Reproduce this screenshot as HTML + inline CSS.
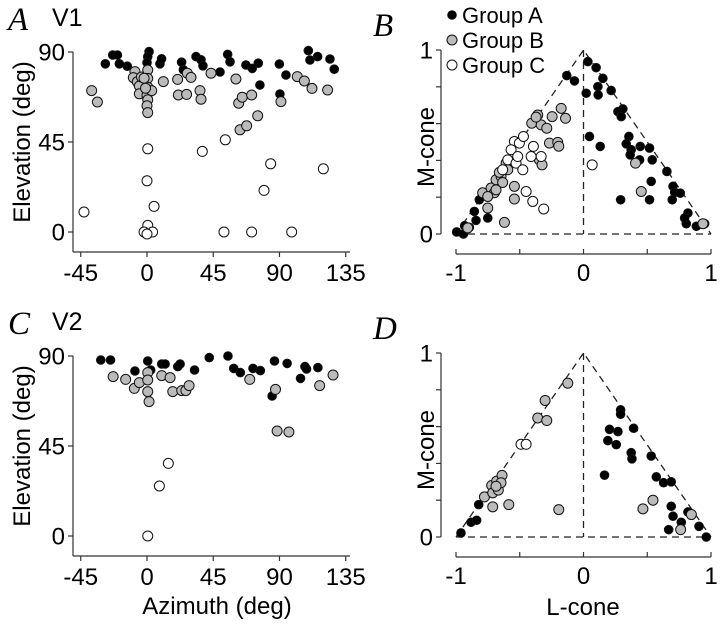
<!DOCTYPE html>
<html><head><meta charset="utf-8"><style>
html,body{margin:0;padding:0;background:#fff;}
svg{display:block;font-family:"Liberation Sans",sans-serif;}
</style></head><body>
<svg id="fig" width="720" height="625" viewBox="0 0 720 625"></svg>
<script>
// Panel A (V1) azimuth/elevation data
const aBlackAz=[-28.3,-23.3,-20.1,-18.8,-13.4,1.4,0.5,0,8.8,9.9,23.5,33.3,36.7,38.0,49.6,54.8,56.4,67.2,71.5,75.6,76.7,89.9,94.4,90.3,109.6,110.7,115.9,124.3,127.2,24.7];
const aBlackEl=[84.1,88.5,88.5,84.1,82.9,90.2,87.6,84.7,84.1,86.6,84.9,87.7,86.1,83.1,80.0,88.8,85.1,83.5,81.8,84.4,73.5,84.0,78.5,69.0,90.7,86.0,87.7,86.5,81.4,81.1];
const aGrayAz=[-37.6,-33.7,-8.2,-9.3,-6.6,-5.2,-3.8,-5.2,0.5,0.5,0.5,0,0.5,0,0.5,3.2,11.1,20.8,21.3,26.9,27.4,29.9,36.0,36.7,43.5,60.4,62.3,64.7,71.1,63.2,67.7,75.2,91.0,102.1,106.9,112.1,122.7,-2,-1];
const aGrayEl=[70.7,65.0,80.2,77.2,75.1,73.0,77.5,69.1,81.0,76.8,72.4,68.4,66.1,63.1,59.7,70.7,75.2,76.3,68.5,68.8,79.4,77.3,70.7,66.4,79.4,76.5,64.4,67.4,68.5,51.1,53.1,58.1,65.2,77.7,75.5,71.8,71.0,76.9,71.9];
const aOpenAz=[-42.8,0.5,0,4.8,0.5,-2,3.8,0,37.6,53.2,52.3,71.1,84.0,79.5,98.3,119.8];
const aOpenEl=[10.0,41.6,25.6,12.8,3.3,0,0,-1,40.3,46.1,0,0,34.1,20.8,0,31.6];
// Panel B (V1) cone weights
const bBlackL=[-0.995,-0.942,-0.932,-0.895,-0.856,-0.843,-0.817,-0.751,-0.131,-0.071,0.034,0.099,0.152,0.021,0.113,0.115,0.217,0.270,0.309,0.296,0.356,0.335,0.374,0.366,0.445,0.440,0.518,0.539,0.654,0.702,0.715,0.696,0.759,0.047,0.131,0.291,0.518,0.531,0.806,0.819,0.885,0.950,0.793];
const bBlackM=[0.011,0,0.045,0.036,0.123,0.074,0.186,0.087,0.861,0.832,0.937,0.904,0.846,0.765,0.801,0.756,0.780,0.665,0.680,0.638,0.530,0.490,0.458,0.430,0.476,0.403,0.467,0.403,0.340,0.259,0.226,0.186,0.222,0.530,0.476,0.186,0.186,0.286,0.056,0.114,0.042,0.056,0.087];
const bGrayL=[-0.908,-0.791,-0.751,-0.725,-0.699,-0.686,-0.647,-0.607,-0.751,-0.594,-0.542,-0.542,-0.620,-0.406,-0.359,-0.332,-0.372,-0.288,-0.346,-0.325,-0.246,-0.175,-0.141,-0.267,-0.202,-0.194,0.408,0.453,0.937,-0.686,-0.660,-0.634];
const bGrayM=[0.033,0.224,0.141,0.250,0.224,0.295,0.313,0.385,0.204,0.349,0.259,0.190,0.063,0.602,0.647,0.593,0.635,0.575,0.403,0.376,0.638,0.683,0.629,0.494,0.498,0.477,0.385,0.231,0.056,0.240,0.335,0.280];
const bOpenL=[-0.542,-0.503,-0.471,-0.568,-0.594,-0.634,-0.529,-0.476,-0.450,-0.398,-0.312,-0.411,-0.393,-0.332,0.068,-0.516];
const bOpenM=[0.503,0.494,0.530,0.458,0.403,0.349,0.385,0.349,0.231,0.177,0.136,0.421,0.476,0.421,0.376,0.421];
// Panel C (V2)
const cBlackAz=[-31.4,-24.8,-8.2,0.5,2.5,10,12.3,20.9,22.5,32.3,42.3,55,58.9,63.4,72,77,86.6,95.2,85,104.3,107.3,108.4,116.1];
const cBlackEl=[88,88,82.5,87.5,83,86,86,84.7,86,83,89.2,90,83.8,81.7,83.8,82.7,87.5,86.3,70,78.8,84.7,83.5,84.2];
const cGrayAz=[-23,-14.5,-8.6,-5.2,0.5,0.5,0.5,1.4,10,15.7,17.5,23.6,26.4,28.6,69.8,87.3,88.4,96.4,117.3,126.4];
const cGrayEl=[79.7,78.3,73.8,76.7,72.2,81.7,78,67.2,80.2,79.2,72.2,72.7,72.7,75.2,78.3,73.3,52.5,52,75.2,80.5];
const cOpenAz=[0.5,8.4,14.5];
const cOpenEl=[0,25,36.3];
// Panel D (V2)
const dBlackL=[-0.961,-0.882,-0.838,-0.822,0.291,0.291,0.204,0.270,0.393,0.191,0.257,0.374,0.380,0.531,0.165,0.571,0.628,0.688,0.688,0.702,0.767,0.668,0.819,0.906,0.963];
const dBlackM=[0.022,0.080,0.091,0.176,0.691,0.667,0.585,0.573,0.591,0.524,0.502,0.458,0.425,0.440,0.336,0.327,0.295,0.300,0.167,0.113,0.080,0.040,0.136,0.058,0];
const dGrayL=[-0.123,-0.301,-0.359,-0.288,-0.777,-0.712,-0.586,-0.720,-0.681,-0.639,-0.712,-0.668,-0.647,-0.194,0.466,0.545,0.846,0.762,-0.686];
const dGrayM=[0.836,0.742,0.647,0.633,0.218,0.164,0.176,0.280,0.304,0.335,0.240,0.255,0.295,0.149,0.153,0.200,0.122,0.040,0.276];
const dOpenL=[-0.490,-0.450];
const dOpenM=[0.504,0.504];
const azTicks=[-45,0,45,90,135];
const elTicks=[0,45,90];
const coneXTicks=[-1,-0.5,0,0.5,1];
const coneYTicks=[0,0.2,0.4,0.6,0.8,1];

const NS="http://www.w3.org/2000/svg";
const svg=document.getElementById('fig');
function mk(tag,attrs,parent){const e=document.createElementNS(NS,tag);for(const k in attrs)e.setAttribute(k,attrs[k]);(parent||svg).appendChild(e);return e;}
function txt(x,y,s,attrs,parent){const t=mk('text',Object.assign({x:x,y:y},attrs),parent);t.textContent=s;return t;}
const TICK=24, TITLE=24;

function azPanel(top,blackAz,blackEl,grayAz,grayEl,openAz,openEl,letter,area,showXLabel){
  const g=mk('g',{});
  
  
  const xs=v=>147+v*1.472, ys=v=>top+180-v*2;
  const L=txt(8,top-22,letter,{'font-family':'"Liberation Serif",serif','font-style':'italic','font-size':33},g);
  
  
  const A=txt(52,top-26,area,{'font-size':25},g);
  
  
  const ya=mk('line',{x1:73,x2:73,y1:top,y2:top+200,stroke:'#333','stroke-width':1.2},g);
  
  
  const xa=mk('line',{x1:73,x2:350,y1:top+200,y2:top+200,stroke:'#333','stroke-width':1.2},g);
  
  
  elTicks.forEach(v=>{
    mk('line',{x1:68,x2:73,y1:ys(v),y2:ys(v),stroke:'#333','stroke-width':1.2},g);
    const t=txt(65,ys(v)+8.5,String(v),{'font-size':TICK,'text-anchor':'end'},g);
    
    
  });
  azTicks.forEach(v=>{
    mk('line',{x1:xs(v),x2:xs(v),y1:top+200,y2:top+205,stroke:'#333','stroke-width':1.2},g);
    const t=txt(xs(v),top+229,String(v),{'font-size':TICK,'text-anchor':'middle'},g);
    
    
  });
  const yt=txt(0,0,'Elevation (deg)',{'font-size':TITLE,'text-anchor':'middle',transform:`translate(30,${top+90}) rotate(-90)`},g);
  
  
  if(showXLabel){
    const xt=txt(217,top+258,'Azimuth (deg)',{'font-size':TITLE,'text-anchor':'middle'},g);
    
    
  }
  dots(g,blackAz,blackEl,xs,ys,'#000',4.3,'point-group-a');
  dots(g,grayAz,grayEl,xs,ys,'#bbb',5,'point-group-b');
  dots(g,openAz,openEl,xs,ys,'#fff',5,'point-group-c');
}
function dots(g,X,Y,xs,ys,fill,r,name){
  X.forEach((v,i)=>{
    const c=mk('circle',{cx:xs(v),cy:ys(Y[i]),r:r,fill:fill,stroke:'#111','stroke-width':1},g);
    
    
  });
}
function conePanel(top,axY,blackL,blackM,grayL,grayM,openL,openM,letter,showXLabel){
  const g=mk('g',{});
  
  
  const xs=v=>583.5+v*127.5, ys=v=>top+184-v*184;
  const L=txt(373,top-14,letter,{'font-family':'"Liberation Serif",serif','font-style':'italic','font-size':33},g);
  
  
  const ya=mk('line',{x1:441,x2:441,y1:ys(1),y2:ys(0),stroke:'#333','stroke-width':1.2},g);
  
  
  coneYTicks.forEach(v=>mk('line',{x1:436,x2:441,y1:ys(v),y2:ys(v),stroke:'#333','stroke-width':1.2},g));
  [0,1].forEach(v=>{const t=txt(433,ys(v)+8.5,String(v),{'font-size':TICK,'text-anchor':'end'},g);
    
    });
  const xa=mk('line',{x1:xs(-1),x2:xs(1),y1:axY,y2:axY,stroke:'#333','stroke-width':1.2},g);
  
  
  coneXTicks.forEach(v=>mk('line',{x1:xs(v),x2:xs(v),y1:axY-5,y2:axY,stroke:'#333','stroke-width':1.2},g));
  [-1,0,1].forEach(v=>{const t=txt(xs(v),axY+27,String(v),{'font-size':TICK,'text-anchor':'middle'},g);
    
    });
  const tri=mk('path',{d:`M${xs(-1)},${ys(0)} L${xs(0)},${ys(1)} L${xs(1)},${ys(0)} M${xs(0)},${ys(1)} L${xs(0)},${ys(0)} M${xs(-1)},${ys(0)} L${xs(1)},${ys(0)}`,fill:'none',stroke:'#222','stroke-width':1.3,'stroke-dasharray':'7,5'},g);
  
  
  const yt=txt(0,0,'M-cone',{'font-size':TITLE,'text-anchor':'middle',transform:`translate(434,${top+97}) rotate(-90)`},g);
  
  
  if(showXLabel){
    const xt=txt(583,axY+58,'L-cone',{'font-size':TITLE,'text-anchor':'middle'},g);
    
    
  }
  dots(g,blackL,blackM,xs,ys,'#000',4.3,'point-group-a');
  dots(g,grayL,grayM,xs,ys,'#bbb',5,'point-group-b');
  dots(g,openL,openM,xs,ys,'#fff',5,'point-group-c');
}
azPanel(52,aBlackAz,aBlackEl,aGrayAz,aGrayEl,aOpenAz,aOpenEl,'A','V1',false);
conePanel(50,254,bBlackL,bBlackM,bGrayL,bGrayM,bOpenL,bOpenM,'B',false);
azPanel(356,cBlackAz,cBlackEl,cGrayAz,cGrayEl,cOpenAz,cOpenEl,'C','V2',true);
conePanel(353,557,dBlackL,dBlackM,dGrayL,dGrayM,dOpenL,dOpenM,'D',true);

// legend
const legend=mk('g',{});


[['Group A','#000',4.3,15],['Group B','#bbb',5,40],['Group C','#fff',5,65]].forEach(([lab,f,r,y])=>{
  const e=mk('g',{},legend);
  
  
  mk('circle',{cx:452,cy:y,r:r,fill:f,stroke:'#111','stroke-width':1},e);
  txt(462,y+8,lab,{'font-size':22},e);
});
</script>
</body></html>
